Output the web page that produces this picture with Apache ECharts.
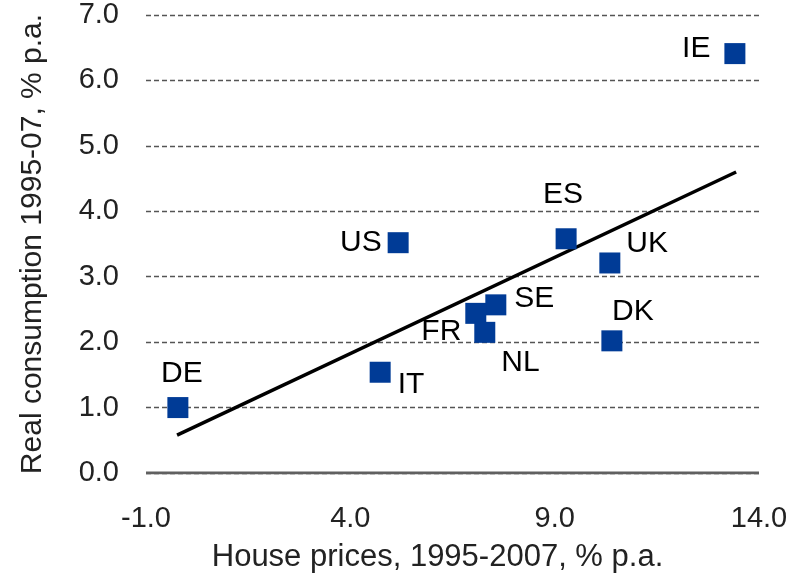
<!DOCTYPE html>
<html>
<head>
<meta charset="utf-8">
<script src="https://cdn.jsdelivr.net/npm/echarts@6/dist/echarts.min.js"></script>
<style>
  html, body { margin: 0; padding: 0; background: #fff; }
  #main { width: 804px; height: 578px; }
</style>
</head>
<body>
<div id="main"></div>
<script>
// countries and values
let countries = ['IE', 'ES', 'UK', 'US', 'SE', 'FR', 'NL', 'DK', 'IT', 'DE'];
let housePrices = [13.41, 9.28, 10.35, 5.17, 7.56, 7.07, 7.29, 10.40, 4.73, -0.22];
let consumption = [6.41, 3.58, 3.21, 3.52, 2.57, 2.44, 2.15, 2.02, 1.54, 1.00];
// fitted line end points
let trendX = [-0.24, 13.44];
let trendY = [0.58, 4.60];

// where each country label sits
let labelPlace = {
  IE: { position: 'left', distance: 14, offset: [0, -5] },
  ES: { position: 'top', distance: 19, offset: [-3, 0] },
  UK: { position: 'right', distance: 6, offset: [0, -19] },
  US: { position: 'left', distance: 6, offset: [0, 0] },
  SE: { position: 'right', distance: 8, offset: [0, -6] },
  FR: { position: 'left', distance: 4, offset: [0, 18] },
  NL: { position: 'right', distance: 6, offset: [0, 30] },
  DK: { position: 'top', distance: 4, offset: [21, 0] },
  IT: { position: 'right', distance: 7, offset: [0, 12] },
  DE: { position: 'top', distance: 8, offset: [4, 0] }
};

let font = 'Liberation Sans, Arial, sans-serif';

let pts = countries.map(function (c, i) {
  let p = labelPlace[c];
  return {
    name: c,
    value: [housePrices[i], consumption[i]],
    label: { show: true, position: p.position, distance: p.distance, offset: p.offset }
  };
});

let trend = trendX.map(function (x, i) { return [x, trendY[i]]; });

var myChart = echarts.init(document.getElementById('main'));

var option = {
  animation: false,
  grid: { left: 146, right: 45, top: 15, bottom: 103, containLabel: false },
  xAxis: {
    type: 'value',
    min: -1, max: 14, interval: 5,
    name: 'House prices, 1995-2007, % p.a.',
    nameLocation: 'middle',
    nameGap: 69,
    nameTextStyle: { fontFamily: font, fontSize: 31, color: '#222', padding: [0, 30, 0, 0] },
    axisLine: { show: false },
    axisTick: { show: false },
    splitLine: { show: false },
    axisLabel: {
      margin: 31, fontFamily: font, fontSize: 29, color: '#222',
      formatter: function (v) { return v.toFixed(1); }
    }
  },
  yAxis: {
    type: 'value',
    min: 0, max: 7, interval: 1,
    name: 'Real consumption 1995-07, % p.a.',
    nameLocation: 'middle',
    nameGap: 98,
    nameTextStyle: { fontFamily: font, fontSize: 30, color: '#222' },
    axisLine: { show: false },
    axisTick: { show: false },
    splitLine: { show: true, lineStyle: { color: '#555', type: [5, 3], width: 1.3 } },
    axisLabel: {
      margin: 27, fontFamily: font, fontSize: 29, color: '#222',
      formatter: function (v) { return v.toFixed(1); }
    }
  },
  series: [
    {
      type: 'line',
      data: trend,
      symbol: 'none',
      lineStyle: { color: '#000', width: 3.5 },
      z: 3
    },
    {
      type: 'scatter',
      data: pts,
      symbol: 'rect',
      symbolSize: 21,
      itemStyle: { color: '#003b96', opacity: 1 },
      label: {
        formatter: '{b}', fontFamily: font, fontSize: 30, color: '#000'
      },
      z: 4
    },
    {
      // solid zero line
      type: 'line',
      data: [[-1, 0], [14, 0]],
      symbol: 'none',
      lineStyle: { color: '#606060', width: 3 },
      z: 2
    }
  ]
};

myChart.setOption(option);
</script>
</body>
</html>
